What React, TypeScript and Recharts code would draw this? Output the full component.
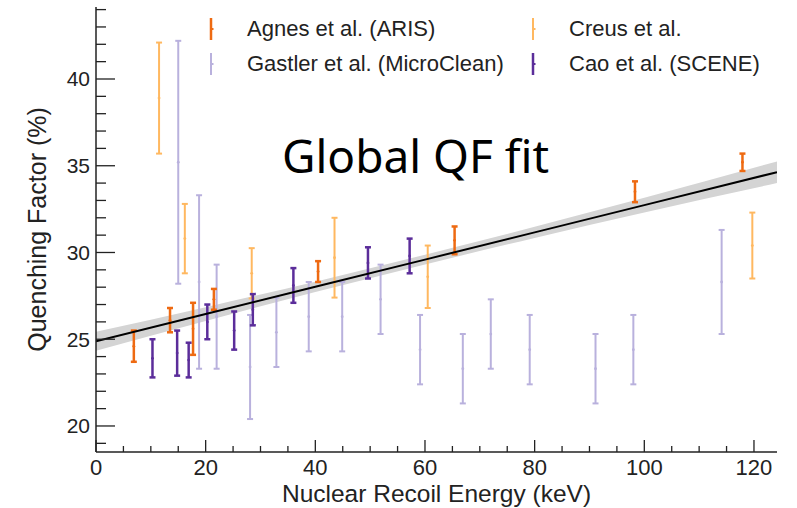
import { ComposedChart, Scatter, ErrorBar, Line, Area, XAxis, YAxis } from "recharts"

// fit line and its uncertainty band
const fitX = [0, 20, 40, 60, 80, 100, 124.2]
const fitY = [24.88, 26.45, 28.02, 29.59, 31.16, 32.73, 34.63]
const bandLo = [24.33, 26.05, 27.72, 29.31, 30.84, 32.31, 34.0]
const bandHi = [25.43, 26.85, 28.32, 29.87, 31.48, 33.15, 35.25]

const agnesX = [6.9, 13.5, 17.7, 21.5, 40.5, 65.4, 98.3, 117.9]
const agnesY = [24.6, 26.1, 25.6, 27.3, 28.9, 30.7, 33.5, 35.2]
const agnesErr = [0.9, 0.7, 1.5, 0.6, 0.6, 0.8, 0.6, 0.5]

const creusX = [11.5, 16.2, 28.4, 43.5, 60.5, 119.7]
const creusY = [38.9, 30.8, 28.8, 29.7, 28.6, 30.4]
const creusErr = [3.2, 2.0, 1.45, 2.3, 1.8, 1.9]

const gastlerX = [15.0, 18.8, 22.0, 28.1, 32.9, 38.8, 44.9, 51.9, 59.1, 66.9, 72.0, 79.1, 91.1, 98.0, 114.1]
const gastlerY = [35.2, 28.3, 26.3, 23.4, 25.4, 26.3, 26.3, 27.3, 24.4, 23.3, 25.3, 24.4, 23.3, 24.4, 28.3]
const gastlerErr = [7.0, 5.0, 3.0, 3.0, 2.0, 2.0, 2.0, 2.0, 2.0, 2.0, 2.0, 2.0, 2.0, 2.0, 3.0]

const caoX = [10.3, 14.8, 16.9, 20.3, 25.2, 28.6, 36.0, 49.6, 57.2]
const caoY = [23.9, 24.2, 23.8, 26.0, 25.5, 26.7, 28.1, 29.4, 29.8]
const caoErr = [1.1, 1.3, 1.0, 1.0, 1.1, 0.9, 1.0, 0.9, 1.0]

const xTicks = [0, 5, 10, 15, 20, 25, 30, 35, 40, 45, 50, 55, 60, 65, 70, 75, 80, 85, 90, 95, 100, 105, 110, 115, 120]
const xLabels = [0, 20, 40, 60, 80, 100, 120]
const yTicks = [19, 20, 21, 22, 23, 24, 25, 26, 27, 28, 29, 30, 31, 32, 33, 34, 35, 36, 37, 38, 39, 40, 41, 42, 43, 44]
const yLabels = [20, 25, 30, 35, 40]

const toPoints = (xs: number[], ys: number[], errs: number[]) =>
  xs.map((x, i) => ({ x, y: ys[i], err: errs[i] }))

const fitData = fitX.map((x, i) => ({ x, fit: fitY[i], band: [bandLo[i], bandHi[i]] }))

const series = [
  { name: "Gastler et al. (MicroClean)", color: "#b9b1dd", w: 2, data: toPoints(gastlerX, gastlerY, gastlerErr) },
  { name: "Creus et al.", color: "#ffb860", w: 2, data: toPoints(creusX, creusY, creusErr) },
  { name: "Cao et al. (SCENE)", color: "#5b2d9a", w: 2.5, data: toPoints(caoX, caoY, caoErr) },
  { name: "Agnes et al. (ARIS)", color: "#ee6a12", w: 2.5, data: toPoints(agnesX, agnesY, agnesErr) },
]

// legend order as in the picture
const legendOrder = ["Agnes et al. (ARIS)", "Creus et al.", "Gastler et al. (MicroClean)", "Cao et al. (SCENE)"]

const font = "'Liberation Sans', Arial, sans-serif"
const ink = "#222"

const XTick = (props: any) => {
  const { x, y, payload } = props
  const major = xLabels.includes(payload.value)
  return (
    <g>
      <line x1={x} x2={x} y1={y} y2={y - (major ? 12 : 6)} stroke={ink} strokeWidth={1.3} />
      {major && (
        <text x={x} y={y + 23} textAnchor="middle" fontSize={22} fill={ink} fontFamily={font}>
          {payload.value}
        </text>
      )}
    </g>
  )
}

const YTick = (props: any) => {
  const { x, y, payload } = props
  const major = yLabels.includes(payload.value)
  return (
    <g>
      <line x1={x} x2={x + (major ? 19 : 10)} y1={y} y2={y} stroke={ink} strokeWidth={1.3} />
      {major && (
        <text x={x - 6} y={y + 7.5} textAnchor="end" fontSize={21} fill={ink} fontFamily={font}>
          {payload.value}
        </text>
      )}
    </g>
  )
}

const Dot = (color: string) => (p: any) => <circle cx={p.cx} cy={p.cy} r={1.4} fill={color} />

export default function App() {
  return (
    <div style={{ position: "fixed", left: 0, top: 0, width: 797, height: 508, background: "#fff" }}>
      <ComposedChart width={797} height={508} data={fitData} margin={{ top: 7, right: 20, left: 0, bottom: 0 }}>
        <XAxis
          dataKey="x"
          type="number"
          domain={[0, 124.2]}
          allowDataOverflow
          ticks={xTicks}
          interval={0}
          height={56}
          tickSize={0}
          tickMargin={0}
          tickLine={false}
          tick={<XTick />}
          axisLine={{ stroke: ink, strokeWidth: 1.5 }}
          label={{
            value: "Nuclear Recoil Energy (keV)",
            position: "center",
            dy: 13,
            style: { fontSize: 24.5, fill: ink, fontFamily: font },
          }}
        />
        <XAxis xAxisId="top" orientation="top" type="number" domain={[0, 124.2]} height={0} tick={false} tickLine={false} axisLine={{ stroke: ink, strokeWidth: 1.5 }} />
        <YAxis
          type="number"
          domain={[18.5, 44.15]}
          allowDataOverflow
          ticks={yTicks}
          interval={0}
          width={96}
          tickSize={0}
          tickMargin={0}
          tickLine={false}
          tick={<YTick />}
          axisLine={{ stroke: ink, strokeWidth: 1.5 }}
          label={{
            value: "Quenching Factor (%)",
            angle: -90,
            position: "center",
            dx: -11,
            style: { fontSize: 25, fill: ink, fontFamily: font, textAnchor: "middle" },
          }}
        />
        <YAxis yAxisId="right" orientation="right" type="number" domain={[18.5, 44.15]} width={0} tick={false} tickLine={false} axisLine={{ stroke: ink, strokeWidth: 1.5 }} />
        <Area dataKey="band" type="monotone" stroke="none" fill="#d4d4d4" fillOpacity={1} isAnimationActive={false} />
        {series.map((s) => (
          <Scatter key={s.name} name={s.name} data={s.data} dataKey="y" shape={Dot(s.color)} isAnimationActive={false}>
            <ErrorBar dataKey="err" direction="y" width={3} stroke={s.color} strokeWidth={s.w} isAnimationActive={false} />
          </Scatter>
        ))}
        <Line dataKey="fit" type="linear" stroke="#000" strokeWidth={2} dot={false} isAnimationActive={false} />
      </ComposedChart>

      {legendOrder.map((name, i) => {
        const s = series.find((d) => d.name === name)!
        const col = i % 2
        const row = Math.floor(i / 2)
        const left = col === 0 ? 205 : 527
        const top = row === 0 ? 17 : 52
        return (
          <div key={name} style={{ position: "absolute", left, top, display: "flex", alignItems: "center" }}>
            <svg width={12} height={24} style={{ display: "block" }}>
              <line x1={6} x2={6} y1={1} y2={23} stroke={s.color} strokeWidth={s.w} />
              <rect x={6} y={11} width={2.5} height={2} fill={s.color} />
            </svg>
            <span style={{ marginLeft: 30, fontFamily: font, fontSize: 22, color: ink, lineHeight: "24px", whiteSpace: "nowrap" }}>
              {name}
            </span>
          </div>
        )
      })}

      <div style={{ position: "absolute", left: 282, top: 132, fontFamily: "'Noto Sans', sans-serif", fontSize: 46, lineHeight: "46px", color: "#000", whiteSpace: "nowrap" }}>
        Global QF fit
      </div>
    </div>
  )
}
